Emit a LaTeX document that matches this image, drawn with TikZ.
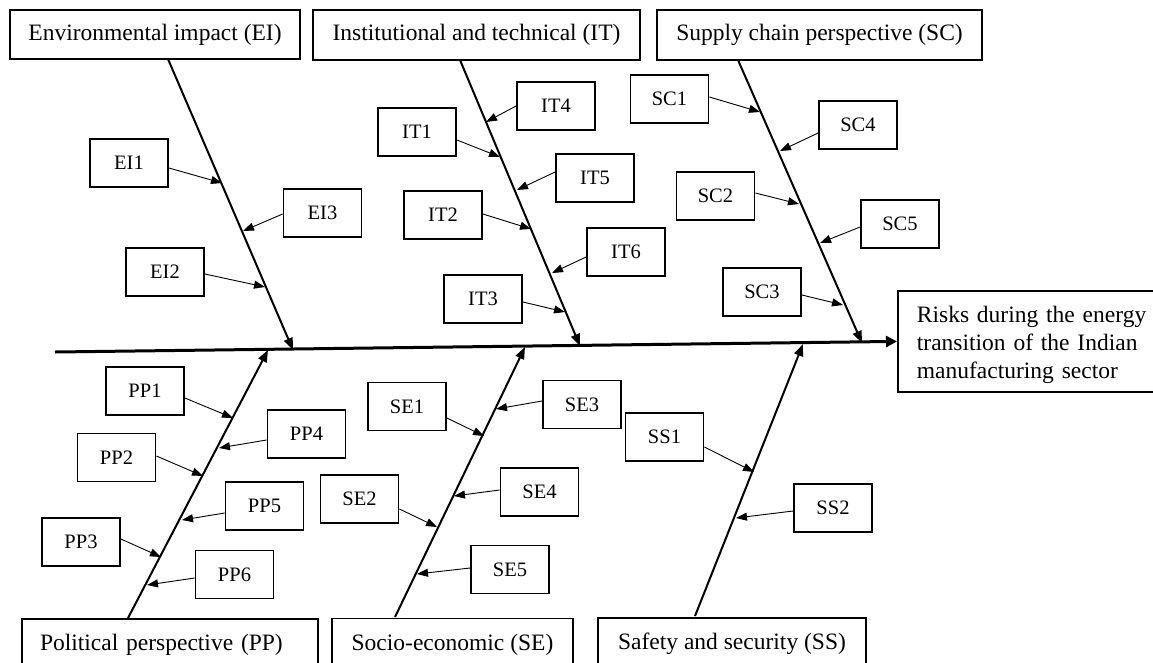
\documentclass[tikz,border=0pt]{standalone}
\usepackage{fontspec}
\setmainfont{Liberation Serif}
\usetikzlibrary{arrows.meta}
\begin{document}
\begin{tikzpicture}[x=1pt,y=-1pt]
\tikzset{
 itembox/.style={draw, line width=1.8pt, minimum width=78pt, minimum height=48pt, inner sep=0pt, font=\fontsize{20.5}{24}\selectfont},
 catbox/.style={draw, line width=1.8pt, inner sep=0pt, font=\fontsize{23.5}{28}\selectfont},
 subarrow/.style={line width=0.9pt, -{Triangle[length=11pt,width=8pt]}},
 spinearrow/.style={line width=2pt, -{Triangle[length=12pt,width=9pt]}},
 mainarrow/.style={line width=3pt, -{Triangle[length=11pt,width=11pt]}},
}
\useasboundingbox (0,0) rectangle (1153,662);
\clip (0,0) rectangle (1153,662);

% category boxes
\node[catbox, minimum width=290pt, minimum height=49pt] (EI) at (155,34.5) {Environmental impact (EI)};
\node[catbox, minimum width=327pt, minimum height=50pt] (IT) at (476.5,35) {Institutional and technical (IT)};
\node[catbox, minimum width=325pt, minimum height=50pt] (SC) at (819.5,35) {Supply chain perspective (SC)};
\node[catbox, minimum height=52pt, text width=260pt, inner xsep=18pt, align=left] (PP) at (170,645) {Political perspective (PP)};
\node[catbox, minimum width=241pt, minimum height=52pt] (SE) at (452.5,644.5) {Socio-economic (SE)};
\node[catbox, minimum width=268pt, minimum height=52pt] (SS) at (732,644) {Safety and security (SS)};
\node[catbox, anchor=north west, text width=240pt, inner xsep=19pt, minimum height=101pt, text height=24pt, align=left] (effect) at (897,290)
 {Risks during the energy\\\makebox[224pt][s]{transition of the Indian}\\manufacturing sector};

% main line
\coordinate (M0) at (55,352);
\draw[mainarrow] (M0) -- (effect.west);

% spines
\coordinate (EIa) at (168,59);  \coordinate (EIb) at (293,350);
\coordinate (ITa) at (460,60);  \coordinate (ITb) at (580,346);
\coordinate (SCa) at (738,60);  \coordinate (SCb) at (862,343);
\coordinate (PPa) at (128,618); \coordinate (PPb) at (268,350);
\coordinate (SEa) at (395,617); \coordinate (SEb) at (525,347);
\coordinate (SSa) at (695,616); \coordinate (SSb) at (803,344);
\draw[spinearrow] (EIa) -- (EIb);
\draw[spinearrow] (ITa) -- (ITb);
\draw[spinearrow] (SCa) -- (SCb);
\draw[spinearrow] (PPa) -- (PPb);
\draw[spinearrow] (SEa) -- (SEb);
\draw[spinearrow] (SSa) -- (SSb);

% item boxes
\node[itembox] (EI1) at (129,163) {EI1};
\node[itembox] (EI3) at (322.5,213) {EI3};
\node[itembox] (EI2) at (165,272) {EI2};
\node[itembox] (IT4) at (556,106) {IT4};
\node[itembox] (IT1) at (417,132) {IT1};
\node[itembox] (IT5) at (595,178) {IT5};
\node[itembox] (IT2) at (443,215) {IT2};
\node[itembox] (IT6) at (626,252) {IT6};
\node[itembox] (IT3) at (483,299) {IT3};
\node[itembox] (SC1) at (669.5,99) {SC1};
\node[itembox] (SC4) at (858,125) {SC4};
\node[itembox] (SC2) at (715.5,196) {SC2};
\node[itembox] (SC5) at (900,224) {SC5};
\node[itembox] (SC3) at (762,292) {SC3};
\node[itembox] (PP1) at (145,391) {PP1};
\node[itembox] (PP4) at (306.5,434) {PP4};
\node[itembox] (PP2) at (116.5,457.5) {PP2};
\node[itembox] (PP5) at (264.5,506) {PP5};
\node[itembox] (PP3) at (81,542) {PP3};
\node[itembox] (PP6) at (234.5,574.5) {PP6};
\node[itembox] (SE1) at (407,406.5) {SE1};
\node[itembox] (SE3) at (582,404.5) {SE3};
\node[itembox] (SE2) at (359.5,499) {SE2};
\node[itembox] (SE4) at (539.5,492) {SE4};
\node[itembox] (SE5) at (510,569.5) {SE5};
\node[itembox] (SS1) at (664.5,437) {SS1};
\node[itembox] (SS2) at (833,508) {SS2};

% tips on spines
\coordinate (EI1t) at (222,183); \coordinate (EI3t) at (243,231); \coordinate (EI2t) at (265,287);
\coordinate (IT4t) at (486,122); \coordinate (IT1t) at (500,157); \coordinate (IT5t) at (517,190);
\coordinate (IT2t) at (531,229); \coordinate (IT6t) at (552,273); \coordinate (IT3t) at (565,312);
\coordinate (SC1t) at (760,112); \coordinate (SC4t) at (780,151); \coordinate (SC2t) at (799,204);
\coordinate (SC5t) at (820,243); \coordinate (SC3t) at (843,305);
\coordinate (PP1t) at (233,418); \coordinate (PP4t) at (219,448); \coordinate (PP2t) at (203,476);
\coordinate (PP5t) at (182,520); \coordinate (PP3t) at (161,557); \coordinate (PP6t) at (147,585);
\coordinate (SE1t) at (484,436); \coordinate (SE3t) at (496,409); \coordinate (SE2t) at (437,527);
\coordinate (SE4t) at (454,496); \coordinate (SE5t) at (417,574);
\coordinate (SS1t) at (754,472); \coordinate (SS2t) at (736,518);

% item arrows
\draw[subarrow] (EI1.east |- 0,168) -- (EI1t);
\draw[subarrow] (EI3.west |- 0,214) -- (EI3t);
\draw[subarrow] (EI2.east |- 0,274) -- (EI2t);
\draw[subarrow] (IT4.west |- 0,106) -- (IT4t);
\draw[subarrow] (IT1.east |- 0,140) -- (IT1t);
\draw[subarrow] (IT5.west |- 0,172) -- (IT5t);
\draw[subarrow] (IT2.east |- 0,214) -- (IT2t);
\draw[subarrow] (IT6.west |- 0,257) -- (IT6t);
\draw[subarrow] (IT3.east |- 0,302) -- (IT3t);
\draw[subarrow] (SC1.east |- 0,97) -- (SC1t);
\draw[subarrow] (SC4.west |- 0,133) -- (SC4t);
\draw[subarrow] (SC2.east |- 0,193) -- (SC2t);
\draw[subarrow] (SC5.west |- 0,227) -- (SC5t);
\draw[subarrow] (SC3.east |- 0,295) -- (SC3t);
\draw[subarrow] (PP1.east |- 0,398) -- (PP1t);
\draw[subarrow] (PP4.west |- 0,440) -- (PP4t);
\draw[subarrow] (PP2.east |- 0,456) -- (PP2t);
\draw[subarrow] (PP5.west |- 0,513) -- (PP5t);
\draw[subarrow] (PP3.east |- 0,539) -- (PP3t);
\draw[subarrow] (PP6.west |- 0,578) -- (PP6t);
\draw[subarrow] (SE1.east |- 0,418) -- (SE1t);
\draw[subarrow] (SE3.west |- 0,401) -- (SE3t);
\draw[subarrow] (SE2.east |- 0,509) -- (SE2t);
\draw[subarrow] (SE4.west |- 0,490) -- (SE4t);
\draw[subarrow] (SE5.west |- 0,568) -- (SE5t);
\draw[subarrow] (SS1.east |- 0,447) -- (SS1t);
\draw[subarrow] (SS2.west |- 0,511) -- (SS2t);
\end{tikzpicture}
\end{document}
